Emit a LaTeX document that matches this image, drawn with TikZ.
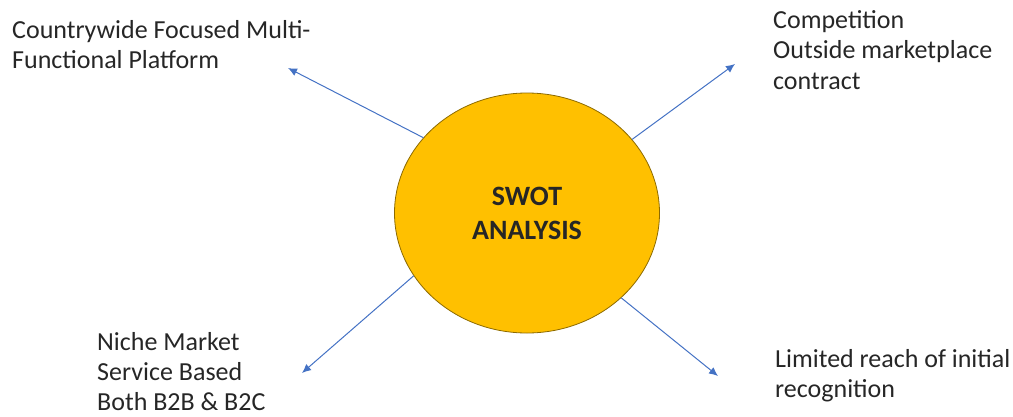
\documentclass[tikz,border=0pt]{standalone}
\usepackage{fontspec}
\setmainfont{Carlito}
\usetikzlibrary{shapes.geometric,arrows.meta}
\definecolor{gold}{HTML}{FFC000}
\definecolor{goldedge}{HTML}{8C6A00}
\definecolor{arrowblue}{HTML}{4472C4}
\definecolor{txt}{HTML}{262626}
\tikzset{
  swot/.style={ellipse, fill=gold, draw=goldedge, line width=0.8pt, minimum width=265pt, minimum height=240pt, inner sep=0pt, align=center, font=\fontsize{28}{34}\selectfont\bfseries, text=txt},
  lbl/.style={anchor=north west, inner sep=0pt, align=left, font=\fontsize{26}{30.5}\selectfont, text=txt},
  arr/.style={draw=arrowblue, line width=1pt, -{Latex[length=9pt,width=8pt]}}
}
\begin{document}
\begin{tikzpicture}[x=1pt,y=-1pt]
\useasboundingbox (0,0) rectangle (1013,416);
\node[swot] (c) at (527,213) {SWOT\\ANALYSIS};
\node[lbl] (tl) at (12,20) {Countrywide Focused Multi-\\Functional Platform};
\node[lbl] (tr) at (773,10) {Competition\\Outside marketplace\\contract};
\node[lbl, font=\fontsize{26}{30}\selectfont] (bl) at (97,332) {Niche Market\\Service Based\\Both B2B \& B2C};
\node[lbl] (br) at (775,349) {Limited reach of initial\\recognition};
\coordinate (tlend) at (288,68);
\coordinate (trend) at (735,64);
\coordinate (blend) at (302,373);
\coordinate (brend) at (718,376);
\draw[arr] (c.144.7) -- (tlend);
\draw[arr] (c.35.8) -- (trend);
\draw[arr] (c.209.3) -- (blend);
\draw[arr] (c.318.5) -- (brend);
\end{tikzpicture}
\end{document}
